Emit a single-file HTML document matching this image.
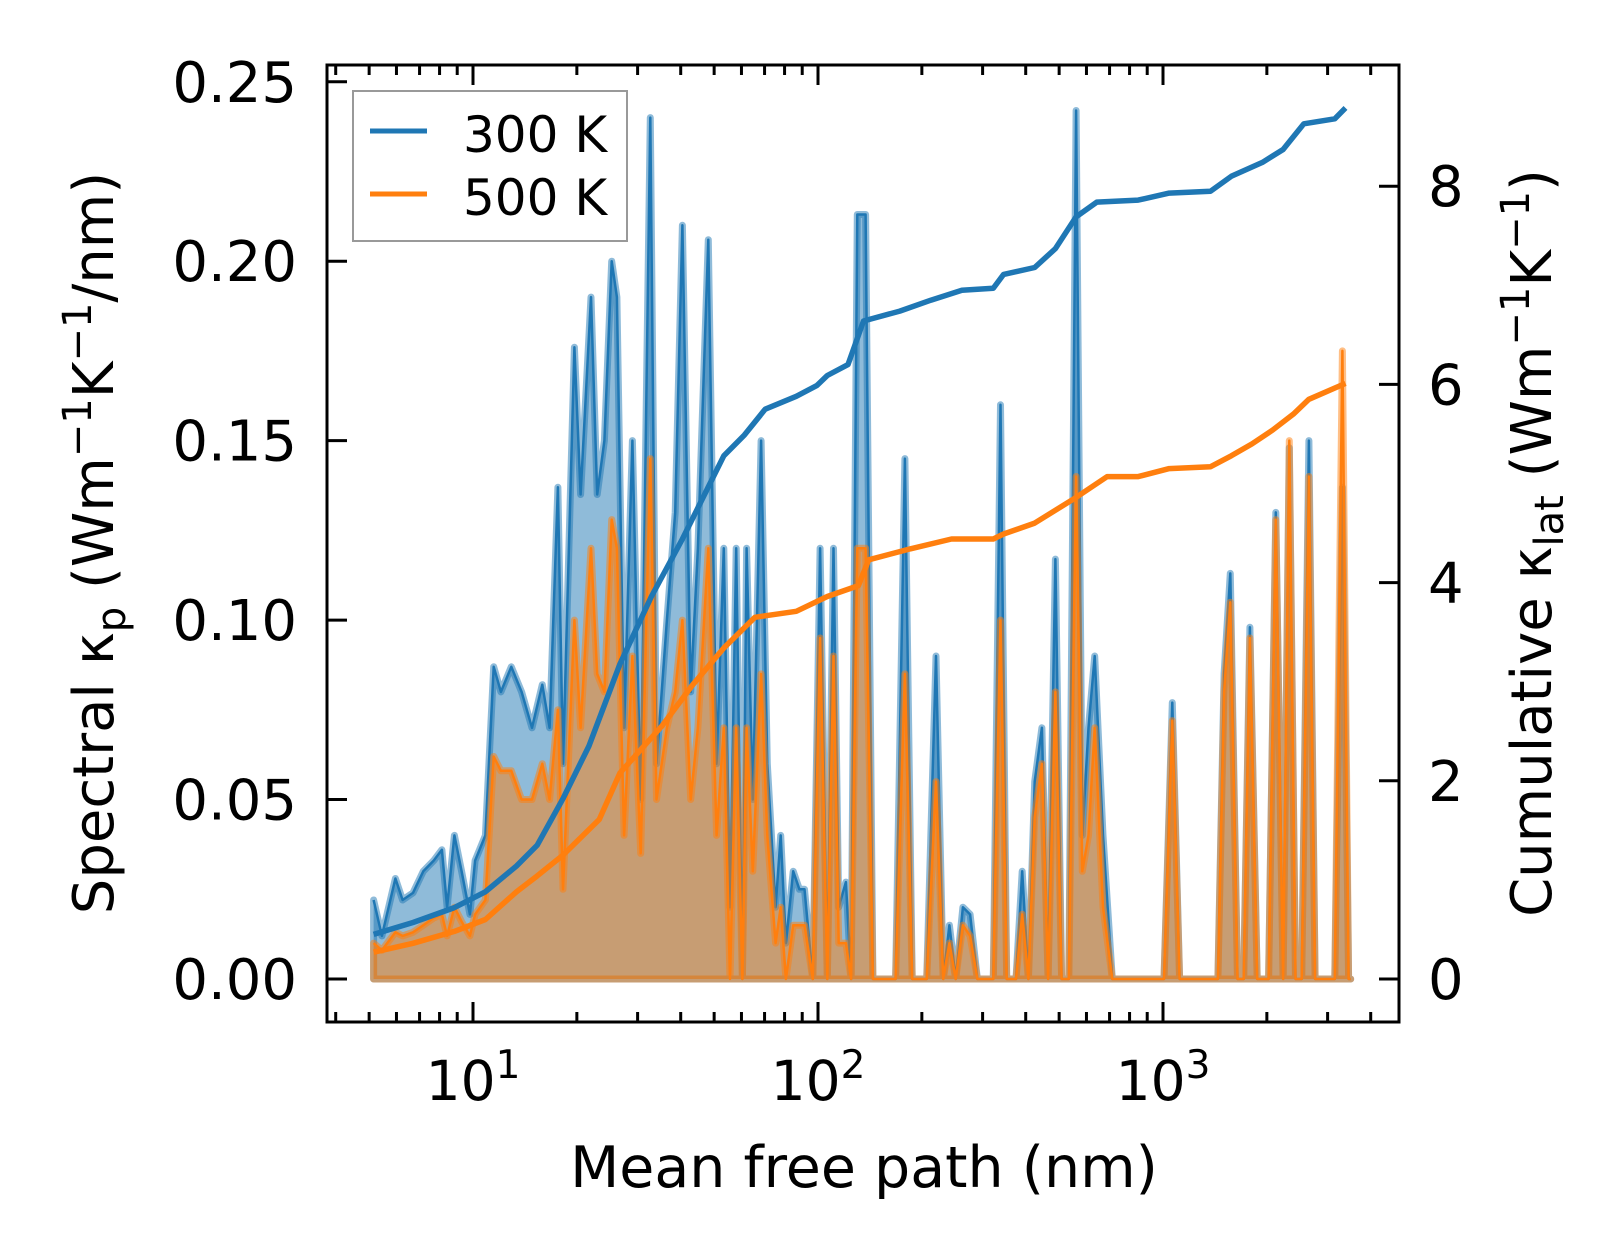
<!DOCTYPE html>
<html><head><meta charset="utf-8"><style>
html,body{margin:0;padding:0;background:#fff;}
svg{display:block;font-family:"DejaVu Sans","Liberation Sans",sans-serif;}
</style></head><body>
<svg id="chart" width="1623" height="1260" viewBox="0 0 1623 1260" xmlns="http://www.w3.org/2000/svg">
<g id="plot"></g>
<g id="axes"></g>
</svg>
<script>
// log10 of mean free path (nm) for spectral samples
const specLog10Mfp = [0.712,0.736,0.775,0.796,0.826,0.856,0.886,0.910,0.925,0.946,0.967,0.991,1.006,1.036,1.060,1.081,1.111,1.141,1.171,1.201,1.222,1.246,1.261,1.294,1.312,1.342,1.360,1.381,1.402,1.417,1.438,1.462,1.486,1.514,1.532,1.562,1.586,1.607,1.631,1.652,1.682,1.706,1.727,1.745,1.763,1.781,1.793,1.811,1.835,1.853,1.877,1.892,1.907,1.928,1.946,1.961,1.985,2.006,2.027,2.045,2.060,2.081,2.096,2.114,2.138,2.159,2.225,2.252,2.273,2.315,2.342,2.363,2.381,2.399,2.420,2.441,2.462,2.508,2.529,2.547,2.574,2.592,2.610,2.628,2.649,2.667,2.688,2.706,2.727,2.748,2.766,2.784,2.802,2.826,2.853,3.003,3.027,3.048,3.159,3.177,3.195,3.216,3.234,3.252,3.273,3.306,3.327,3.348,3.366,3.384,3.402,3.423,3.441,3.498,3.520,3.538,3.544];
const spec300 = [0.022,0.012,0.028,0.022,0.024,0.030,0.033,0.036,0.020,0.040,0.030,0.018,0.033,0.040,0.087,0.080,0.087,0.080,0.070,0.082,0.070,0.137,0.060,0.176,0.135,0.190,0.135,0.150,0.200,0.190,0.070,0.150,0.050,0.240,0.060,0.100,0.130,0.210,0.080,0.120,0.206,0.060,0.120,0.020,0.120,0.000,0.120,0.050,0.150,0.060,0.020,0.040,0.010,0.030,0.025,0.025,0.000,0.120,0.000,0.120,0.020,0.027,0.000,0.213,0.213,0.000,0.000,0.145,0.000,0.000,0.090,0.000,0.015,0.000,0.020,0.018,0.000,0.000,0.160,0.000,0.000,0.030,0.000,0.055,0.070,0.000,0.117,0.000,0.000,0.242,0.040,0.070,0.090,0.040,0.000,0.000,0.077,0.000,0.000,0.085,0.113,0.000,0.000,0.098,0.000,0.000,0.130,0.000,0.148,0.000,0.000,0.150,0.000,0.000,0.137,0.000,0.000];
const spec500 = [0.010,0.008,0.013,0.012,0.013,0.015,0.017,0.018,0.012,0.020,0.016,0.012,0.018,0.022,0.062,0.058,0.058,0.050,0.050,0.060,0.050,0.075,0.025,0.100,0.070,0.120,0.085,0.080,0.128,0.120,0.040,0.090,0.035,0.145,0.050,0.070,0.080,0.100,0.050,0.070,0.120,0.040,0.070,0.000,0.070,0.000,0.070,0.030,0.085,0.040,0.010,0.020,0.000,0.015,0.015,0.015,0.000,0.095,0.000,0.090,0.010,0.010,0.000,0.120,0.120,0.000,0.000,0.085,0.000,0.000,0.055,0.000,0.010,0.000,0.015,0.012,0.000,0.000,0.100,0.000,0.000,0.018,0.000,0.045,0.060,0.000,0.080,0.000,0.000,0.140,0.030,0.040,0.070,0.020,0.000,0.000,0.072,0.000,0.000,0.080,0.105,0.000,0.000,0.095,0.000,0.000,0.128,0.000,0.150,0.000,0.000,0.140,0.000,0.000,0.175,0.000,0.000];
const cum300Log10Mfp = [0.712,0.826,0.946,1.036,1.126,1.186,1.261,1.336,1.426,1.517,1.607,1.667,1.727,1.787,1.847,1.937,1.997,2.027,2.087,2.132,2.237,2.327,2.417,2.508,2.538,2.628,2.688,2.748,2.808,2.928,3.018,3.138,3.198,3.288,3.348,3.408,3.498,3.529];
const cum300 = [0.45,0.57,0.72,0.88,1.14,1.35,1.82,2.35,3.18,3.86,4.44,4.86,5.28,5.49,5.75,5.88,5.99,6.09,6.20,6.64,6.74,6.85,6.95,6.97,7.11,7.18,7.37,7.69,7.84,7.86,7.93,7.95,8.10,8.24,8.37,8.63,8.68,8.79];
const cum500Log10Mfp = [0.712,0.826,0.946,1.036,1.126,1.186,1.261,1.366,1.426,1.547,1.637,1.727,1.817,1.937,2.027,2.117,2.147,2.267,2.387,2.508,2.538,2.628,2.748,2.838,2.928,3.018,3.138,3.198,3.258,3.318,3.378,3.423,3.529];
const cum500 = [0.27,0.36,0.48,0.60,0.88,1.04,1.25,1.61,2.08,2.55,2.97,3.34,3.65,3.71,3.86,3.97,4.23,4.34,4.44,4.44,4.49,4.60,4.86,5.07,5.07,5.15,5.17,5.28,5.40,5.54,5.70,5.85,6.01];
const leftTicks = [0,0.05,0.10,0.15,0.20,0.25];
const leftTickLabels = ["0.00","0.05","0.10","0.15","0.20","0.25"];
const rightTicks = [0,2,4,6,8];
const xMajorExp = [1,2,3];

const NS="http://www.w3.org/2000/svg";
const X0=327,X1=1399,Y0=65,Y1=1022;
const xs = l => 473 + (l-1)*345;
const yl = v => 979 - v*3589;
const yr = c => 979 - c*99.1;
const plot=document.getElementById('plot'), axes=document.getElementById('axes');
function mk(tag,attrs,parent){const e=document.createElementNS(NS,tag);for(const k in attrs)e.setAttribute(k,attrs[k]);parent.appendChild(e);return e;}
function linePath(xa,ya,fy){return xa.map((l,i)=>(i?'L':'M')+xs(l).toFixed(1)+' '+fy(ya[i]).toFixed(1)).join(' ');}
function areaPath(xa,ya){return linePath(xa,ya,yl)+' L'+xs(xa[xa.length-1]).toFixed(1)+' '+yl(0)+' L'+xs(xa[0]).toFixed(1)+' '+yl(0)+' Z';}
const series=[[spec300,'#1f77b4','300'],[spec500,'#ff7f0e','500']];
series.forEach(([vals,col,nm])=>{
  const a=mk('path',{d:areaPath(specLog10Mfp,vals),fill:col,'fill-opacity':0.5,stroke:col,'stroke-opacity':0.5,'stroke-width':7,'stroke-linejoin':'round'},plot);
  
  
  const l=mk('path',{d:linePath(specLog10Mfp,vals,yl),fill:'none',stroke:col,'stroke-width':2.5,'stroke-linejoin':'round'},plot);
  
  
});
const c3=mk('path',{d:linePath(cum300Log10Mfp,cum300,yr),fill:'none',stroke:'#1f77b4','stroke-width':5.5,'stroke-linejoin':'round'},plot);


const c5=mk('path',{d:linePath(cum500Log10Mfp,cum500,yr),fill:'none',stroke:'#ff7f0e','stroke-width':5.5,'stroke-linejoin':'round'},plot);



const fr=mk('rect',{x:X0,y:Y0,width:X1-X0,height:Y1-Y0,fill:'none',stroke:'#000','stroke-width':3},axes);


const T='stroke:#000;stroke-width:3';
for(let e=0;e<=3;e++){for(let m=1;m<10;m++){const l=e+Math.log10(m);if(l<0.55||l>3.62)continue;const x=xs(l);const len=m===1?20:10;
 mk('line',{x1:x,x2:x,y1:Y1,y2:Y1-len,style:T},axes);mk('line',{x1:x,x2:x,y1:Y0,y2:Y0+len,style:T},axes);}}
xMajorExp.forEach(e=>{const t=mk('text',{x:xs(e),y:1100,'text-anchor':'middle','font-size':55},axes);
 
 
 t.innerHTML='10<tspan dy="-22" font-size="39">'+e+'</tspan>';});
leftTicks.forEach((v,i)=>{const y=yl(v);mk('line',{x1:X0,x2:X0+20,y1:y,y2:y,style:T},axes);
 const t=mk('text',{x:297,y:y+20,'text-anchor':'end','font-size':56},axes);t.textContent=leftTickLabels[i];
 
 });
rightTicks.forEach(v=>{const y=yr(v);mk('line',{x1:X1,x2:X1-20,y1:y,y2:y,style:T},axes);
 const t=mk('text',{x:1428,y:y+20,'text-anchor':'start','font-size':56},axes);t.textContent=String(v);
 
 });
</script>
<svg style="position:absolute;left:0;top:0" width="1623" height="1260" xmlns="http://www.w3.org/2000/svg" font-family="DejaVu Sans, Liberation Sans, sans-serif">
<text x="864" y="1187" text-anchor="middle" font-size="57">Mean free path (nm)</text>
<text transform="translate(113,543) rotate(-90)" text-anchor="middle" font-size="56">Spectral κ<tspan dy="12" font-size="40">p</tspan><tspan dy="-12"> (Wm</tspan><tspan dy="-22" font-size="40">−1</tspan><tspan dy="22">K</tspan><tspan dy="-22" font-size="40">−1</tspan><tspan dy="22">/nm)</tspan></text>
<text transform="translate(1551,543) rotate(-90)" text-anchor="middle" font-size="56">Cumulative κ<tspan dy="12" font-size="40">lat</tspan><tspan dy="-12"> (Wm</tspan><tspan dy="-22" font-size="40">−1</tspan><tspan dy="22">K</tspan><tspan dy="-22" font-size="40">−1</tspan><tspan dy="22">)</tspan></text>
<g>
<rect x="353" y="91" width="274" height="150" fill="#fff" fill-opacity="0.8" stroke="#999" stroke-width="2"/>
<line x1="370" x2="427" y1="131" y2="131" stroke="#1f77b4" stroke-width="5"/>
<text x="463" y="152" font-size="50">300 K</text>
<line x1="370" x2="427" y1="194" y2="194" stroke="#ff7f0e" stroke-width="5"/>
<text x="463" y="215" font-size="50">500 K</text>
</g>
</svg>
</body></html>
